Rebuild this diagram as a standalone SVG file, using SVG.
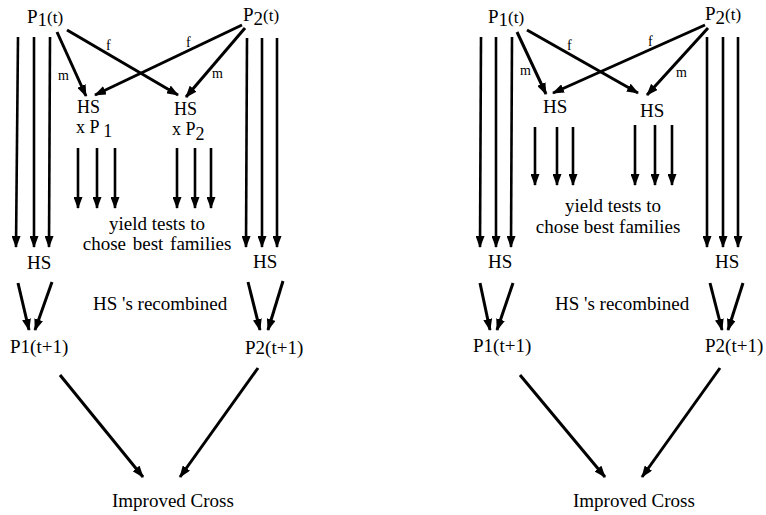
<svg xmlns="http://www.w3.org/2000/svg" width="766" height="515" viewBox="0 0 766 515" font-family="'Liberation Serif', 'Times New Roman', Times, 'DejaVu Serif', serif">
<style>
text{font-family:'Liberation Serif','Times New Roman',Times,'DejaVu Serif',serif;font-size:19px;fill:#000}
.sm{font-size:14px}
.hs{font-size:18px}
.mid{text-anchor:middle}
line{stroke:#000;stroke-width:2.6;marker-end:url(#ah)}
.d{stroke-width:3}
</style>
<defs>
<marker id="ah" viewBox="0 0 12 9" markerWidth="12" markerHeight="9" markerUnits="userSpaceOnUse" refX="11" refY="4.5" orient="auto">
<path d="M0,0 L12,4.5 L0,9 z" fill="#000"/>
</marker>
</defs>
<rect width="766" height="515" fill="#fff"/>

<!-- LEFT DIAGRAM -->
<g id="L-P1t"><text x="27" y="23">P<tspan dy="3">1</tspan><tspan dy="-3" font-size="17">(t)</tspan></text></g>
<g id="L-P2t"><text x="243" y="21">P<tspan dy="4">2</tspan><tspan dy="-4" font-size="17">(t)</tspan></text></g>
<g id="L-HSxP1"><text class="hs" x="77" y="113">HS</text><text class="hs" x="76" y="133">x P <tspan dy="4">1</tspan></text></g>
<g id="L-HSxP2"><text class="hs" x="174" y="115">HS</text><text class="hs" x="172" y="135">x P<tspan dy="5">2</tspan></text></g>
<g id="L-yield"><text class="mid" x="157" y="230">yield tests to</text><text class="mid" x="157" y="250" word-spacing="2">chose best families</text></g>
<g id="L-HS1"><text x="27" y="269">HS</text></g>
<g id="L-HS2"><text x="253" y="268">HS</text></g>
<g id="L-recomb"><text x="93" y="310">HS 's recombined</text></g>
<g id="L-P1t1"><text x="10" y="353">P1(t+1)</text></g>
<g id="L-P2t1"><text x="245" y="354">P2(t+1)</text></g>
<g id="L-cross"><text x="112" y="507">Improved Cross</text></g>
<g id="L-labels">
<text class="sm" x="106" y="50">f</text>
<text class="sm" x="186" y="47">f</text>
<text class="sm" x="58" y="80">m</text>
<text class="sm" x="212" y="78">m</text>
</g>

<!-- RIGHT DIAGRAM -->
<g id="R-P1t"><text x="488" y="23">P<tspan dy="3">1</tspan><tspan dy="-3" font-size="17">(t)</tspan></text></g>
<g id="R-P2t"><text x="705" y="20">P<tspan dy="4">2</tspan><tspan dy="-4" font-size="17">(t)</tspan></text></g>
<g id="R-HS-a"><text x="543" y="113">HS</text></g>
<g id="R-HS-b"><text x="640" y="117">HS</text></g>
<g id="R-yield"><text class="mid" x="613" y="212">yield tests to</text><text class="mid" x="608" y="233">chose best families</text></g>
<g id="R-HS1"><text x="488" y="268">HS</text></g>
<g id="R-HS2"><text x="715" y="268">HS</text></g>
<g id="R-recomb"><text x="555" y="310">HS 's recombined</text></g>
<g id="R-P1t1"><text x="473" y="352">P1(t+1)</text></g>
<g id="R-P2t1"><text x="705" y="352">P2(t+1)</text></g>
<g id="R-cross"><text x="573" y="507">Improved Cross</text></g>
<g id="R-labels">
<text class="sm" x="567" y="50">f</text>
<text class="sm" x="648" y="46">f</text>
<text class="sm" x="520" y="75">m</text>
<text class="sm" x="676" y="77">m</text>
</g>

<g id="connectors">
<!-- left diagram -->
<line x1="18" y1="37" x2="16" y2="247"/>
<line x1="34" y1="37" x2="34" y2="247"/>
<line x1="50" y1="37" x2="49" y2="247"/>
<line x1="247" y1="38" x2="246" y2="247"/>
<line x1="262" y1="38" x2="262" y2="247"/>
<line x1="277" y1="38" x2="277" y2="247"/>
<line class="d" x1="57" y1="32" x2="86" y2="96"/>
<line class="d" x1="67" y1="30" x2="178" y2="95"/>
<line class="d" x1="242" y1="25" x2="95" y2="95"/>
<line class="d" x1="245" y1="28" x2="186" y2="97"/>
<line x1="78" y1="148" x2="78" y2="208"/>
<line x1="97" y1="148" x2="97" y2="208"/>
<line x1="115" y1="148" x2="115" y2="208"/>
<line x1="177" y1="148" x2="177" y2="208"/>
<line x1="195" y1="148" x2="195" y2="208"/>
<line x1="211" y1="148" x2="211" y2="208"/>
<line class="d" x1="18" y1="283" x2="29" y2="330"/>
<line class="d" x1="52" y1="282" x2="35" y2="330"/>
<line class="d" x1="248" y1="282" x2="260" y2="330"/>
<line class="d" x1="283" y1="281" x2="268" y2="330"/>
<line class="d" x1="60" y1="375" x2="143" y2="477"/>
<line class="d" x1="258" y1="368" x2="180" y2="477"/>
<!-- right diagram -->
<line x1="481" y1="37" x2="480" y2="247"/>
<line x1="496" y1="37" x2="496" y2="247"/>
<line x1="512" y1="37" x2="511" y2="247"/>
<line x1="707" y1="37" x2="707" y2="247"/>
<line x1="723" y1="37" x2="723" y2="247"/>
<line x1="738" y1="37" x2="738" y2="247"/>
<line class="d" x1="517" y1="32" x2="546" y2="94"/>
<line class="d" x1="527" y1="30" x2="638" y2="93"/>
<line class="d" x1="705" y1="25" x2="553" y2="93"/>
<line class="d" x1="708" y1="28" x2="647" y2="95"/>
<line x1="535" y1="127" x2="535" y2="185"/>
<line x1="557" y1="127" x2="557" y2="185"/>
<line x1="573" y1="127" x2="573" y2="185"/>
<line x1="635" y1="125" x2="635" y2="185"/>
<line x1="655" y1="125" x2="655" y2="185"/>
<line x1="672" y1="125" x2="672" y2="185"/>
<line class="d" x1="480" y1="283" x2="490" y2="330"/>
<line class="d" x1="513" y1="283" x2="497" y2="330"/>
<line class="d" x1="710" y1="283" x2="722" y2="330"/>
<line class="d" x1="743" y1="283" x2="728" y2="330"/>
<line class="d" x1="520" y1="375" x2="605" y2="477"/>
<line class="d" x1="720" y1="368" x2="642" y2="477"/>
</g>
</svg>
